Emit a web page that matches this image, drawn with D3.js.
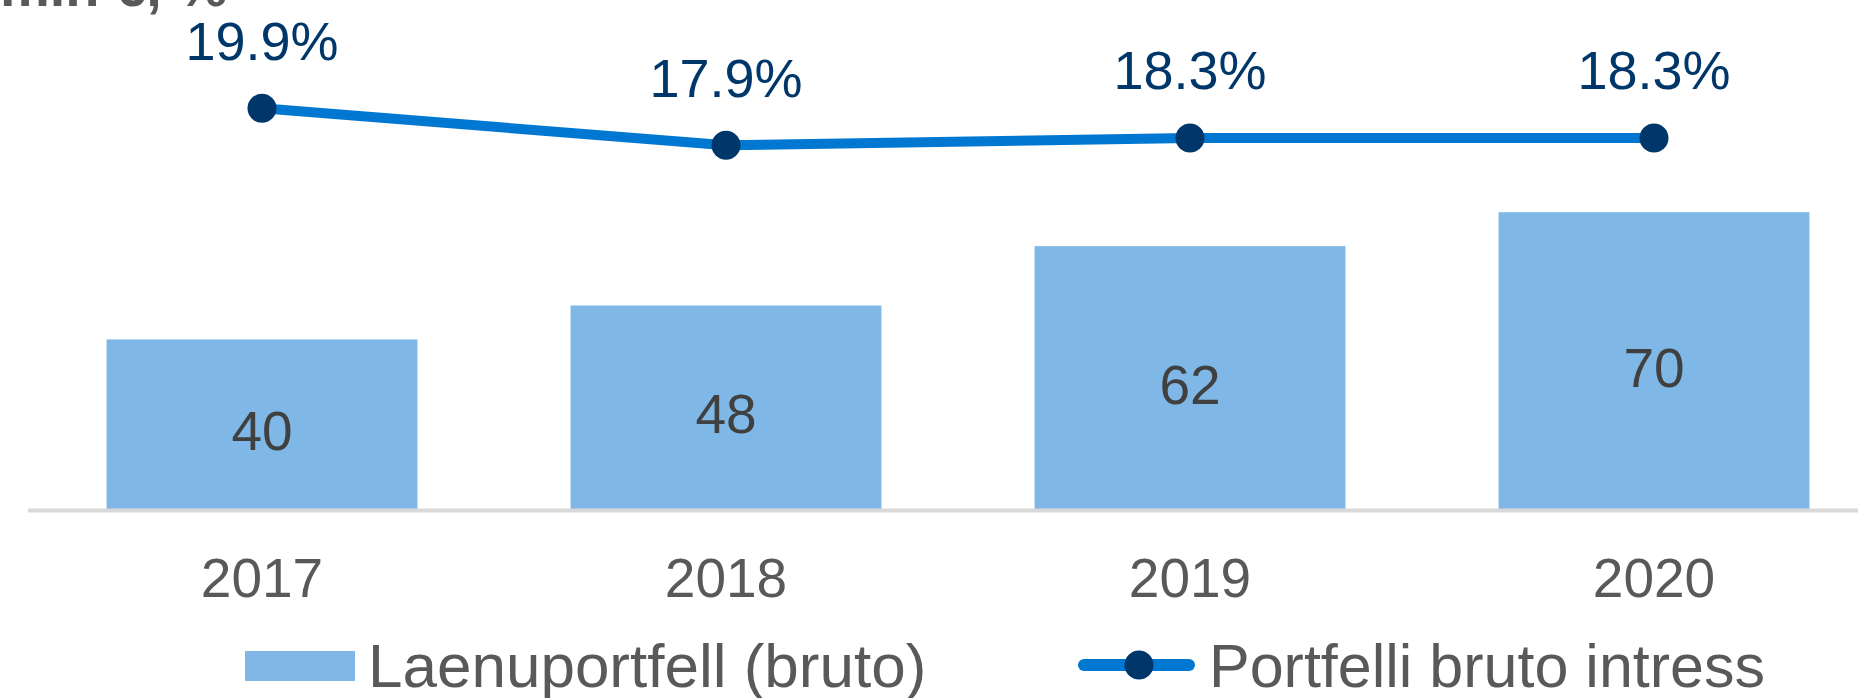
<!DOCTYPE html>
<html>
<head>
<meta charset="utf-8">
<script src="https://cdn.jsdelivr.net/npm/d3@7"></script>
<style>
  html, body { margin: 0; padding: 0; background: #fff; }
  svg { display: block; font-family: "Liberation Sans", Arial, sans-serif; }
</style>
</head>
<body>
<script>
const years = ["2017", "2018", "2019", "2020"];
const portfolio = [40, 48, 62, 70];
const interest = [19.9, 17.9, 18.3, 18.3];
const seriesNames = ["Laenuportfell (bruto)", "Portfelli bruto intress"];
const unitTitle = "mln €, %";

const W = 1858, H = 698;
const svg = d3.select("body").append("svg").attr("width", W).attr("height", H);

const x = d3.scaleBand().domain(years).range([30, 1886]).paddingInner(0.33).paddingOuter(0.165);
const y = d3.scaleLinear().domain([0, 80]).range([509, 509 - 80 * 4.24]);
const y2 = d3.scaleLinear().domain([16, 22]).range([108.3 + 3.9 * 18.5, 108.3 - 2.1 * 18.5]);

const barColor = "#7FB8E6", lineColor = "#0078D2", markerColor = "#00376B";

// unit title (cut off at top)
svg.append("text").attr("x", 0).attr("y", 6).attr("font-size", 56).attr("font-weight", "bold")
  .attr("fill", "#595959").text(unitTitle);

// bars
svg.selectAll("rect.bar").data(years).join("rect").attr("class", "bar")
  .attr("x", d => x(d)).attr("width", x.bandwidth())
  .attr("y", (d, i) => y(portfolio[i])).attr("height", (d, i) => y(0) - y(portfolio[i]))
  .attr("fill", barColor);

// bar labels
svg.selectAll("text.bl").data(years).join("text").attr("class", "bl")
  .attr("x", d => x(d) + x.bandwidth() / 2)
  .attr("y", (d, i) => (y(portfolio[i]) + y(0)) / 2 + 26)
  .attr("text-anchor", "middle").attr("font-size", 55).attr("fill", "#404040")
  .text((d, i) => portfolio[i]);

// axis line
svg.append("line").attr("x1", 28).attr("x2", W).attr("y1", 510.5).attr("y2", 510.5)
  .attr("stroke", "#D9D9D9").attr("stroke-width", 4);

// x axis labels
svg.selectAll("text.xl").data(years).join("text").attr("class", "xl")
  .attr("x", d => x(d) + x.bandwidth() / 2).attr("y", 597)
  .attr("text-anchor", "middle").attr("font-size", 55).attr("fill", "#595959").text(d => d);

// line
const line = d3.line().x((d, i) => x(years[i]) + x.bandwidth() / 2).y(d => y2(d));
svg.append("path").datum(interest).attr("d", line).attr("fill", "none")
  .attr("stroke", lineColor).attr("stroke-width", 10).attr("stroke-linejoin", "round");
svg.selectAll("circle.m").data(interest).join("circle").attr("class", "m")
  .attr("cx", (d, i) => x(years[i]) + x.bandwidth() / 2).attr("cy", d => y2(d))
  .attr("r", 14.5).attr("fill", markerColor);
svg.selectAll("text.ll").data(interest).join("text").attr("class", "ll")
  .attr("x", (d, i) => x(years[i]) + x.bandwidth() / 2).attr("y", d => y2(d) - 48.5)
  .attr("text-anchor", "middle").attr("font-size", 54).attr("fill", markerColor)
  .text(d => d.toFixed(1) + "%");

// legend
const lg = svg.append("g");
lg.append("rect").attr("x", 245).attr("y", 651).attr("width", 110).attr("height", 30).attr("fill", barColor);
lg.append("text").attr("x", 368).attr("y", 687).attr("font-size", 62).attr("fill", "#595959").text(seriesNames[0]);
lg.append("line").attr("x1", 1084).attr("x2", 1189).attr("y1", 665).attr("y2", 665)
  .attr("stroke", lineColor).attr("stroke-width", 12).attr("stroke-linecap", "round");
lg.append("circle").attr("cx", 1139).attr("cy", 665).attr("r", 14.5).attr("fill", markerColor);
lg.append("text").attr("x", 1209).attr("y", 687).attr("font-size", 61).attr("fill", "#595959").text(seriesNames[1]);
</script>
</body>
</html>
